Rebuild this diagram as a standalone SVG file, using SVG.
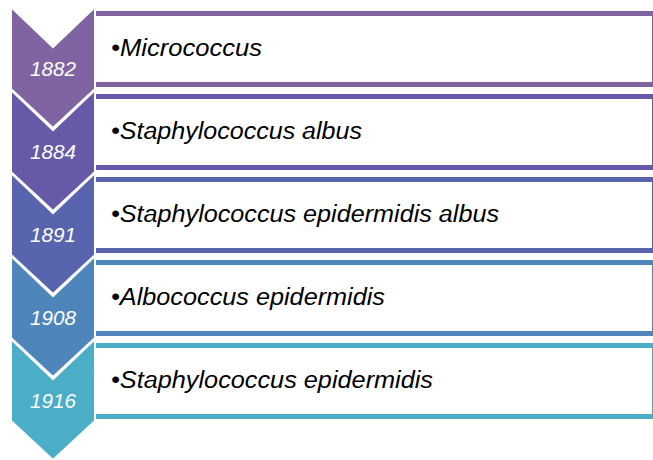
<svg xmlns="http://www.w3.org/2000/svg" width="653" height="460" viewBox="0 0 653 460">
<style>
.box{fill:#ffffff;stroke-width:5}
.chev{stroke:#ffffff;stroke-width:2;stroke-linejoin:miter}
.yr{font-family:"Liberation Sans",Arial,sans-serif;font-style:italic;font-size:21px;fill:#ffffff;text-anchor:middle}
.lbl{font-family:"Liberation Sans",Arial,sans-serif;font-style:italic;font-size:23px;fill:#000000}
</style>
<rect width="653" height="460" fill="#ffffff"/>
<g id="connectors"></g>
<g id="row1">
<rect class="box" x="92.5" y="13.5" width="562" height="71" rx="2" stroke="#8064A2"/>
<polygon class="chev" points="11,7 53,47 95,7 95,89 53,128 11,89" fill="#8064A2"/>
<text class="yr" x="53" y="76" textLength="46" lengthAdjust="spacingAndGlyphs">1882</text>
<text class="lbl" x="111" y="56" textLength="151" lengthAdjust="spacingAndGlyphs">•Micrococcus</text>
</g>
<g id="row2">
<rect class="box" x="92.5" y="96.5" width="562" height="71" rx="2" stroke="#6559A8"/>
<polygon class="chev" points="11,90 53,130 95,90 95,172 53,211 11,172" fill="#6559A8"/>
<text class="yr" x="53" y="159" textLength="46" lengthAdjust="spacingAndGlyphs">1884</text>
<text class="lbl" x="111" y="139" textLength="251" lengthAdjust="spacingAndGlyphs">•Staphylococcus albus</text>
</g>
<g id="row3">
<rect class="box" x="92.5" y="179.5" width="562" height="71" rx="2" stroke="#5964AF"/>
<polygon class="chev" points="11,173 53,213 95,173 95,255 53,294 11,255" fill="#5964AF"/>
<text class="yr" x="53" y="242" textLength="46" lengthAdjust="spacingAndGlyphs">1891</text>
<text class="lbl" x="111" y="222" textLength="388" lengthAdjust="spacingAndGlyphs">•Staphylococcus epidermidis albus</text>
</g>
<g id="row4">
<rect class="box" x="92.5" y="262.5" width="562" height="71" rx="2" stroke="#4E86BB"/>
<polygon class="chev" points="11,256 53,296 95,256 95,338 53,377 11,338" fill="#4E86BB"/>
<text class="yr" x="53" y="325" textLength="46" lengthAdjust="spacingAndGlyphs">1908</text>
<text class="lbl" x="111" y="305" textLength="274" lengthAdjust="spacingAndGlyphs">•Albococcus epidermidis</text>
</g>
<g id="row5">
<rect class="box" x="92.5" y="345.5" width="562" height="71" rx="2" stroke="#4BADC6"/>
<polygon class="chev" points="11,339 53,379 95,339 95,421 53,460 11,421" fill="#4BADC6"/>
<text class="yr" x="53" y="408" textLength="46" lengthAdjust="spacingAndGlyphs">1916</text>
<text class="lbl" x="111" y="388" textLength="322" lengthAdjust="spacingAndGlyphs">•Staphylococcus epidermidis</text>
</g>
</svg>
